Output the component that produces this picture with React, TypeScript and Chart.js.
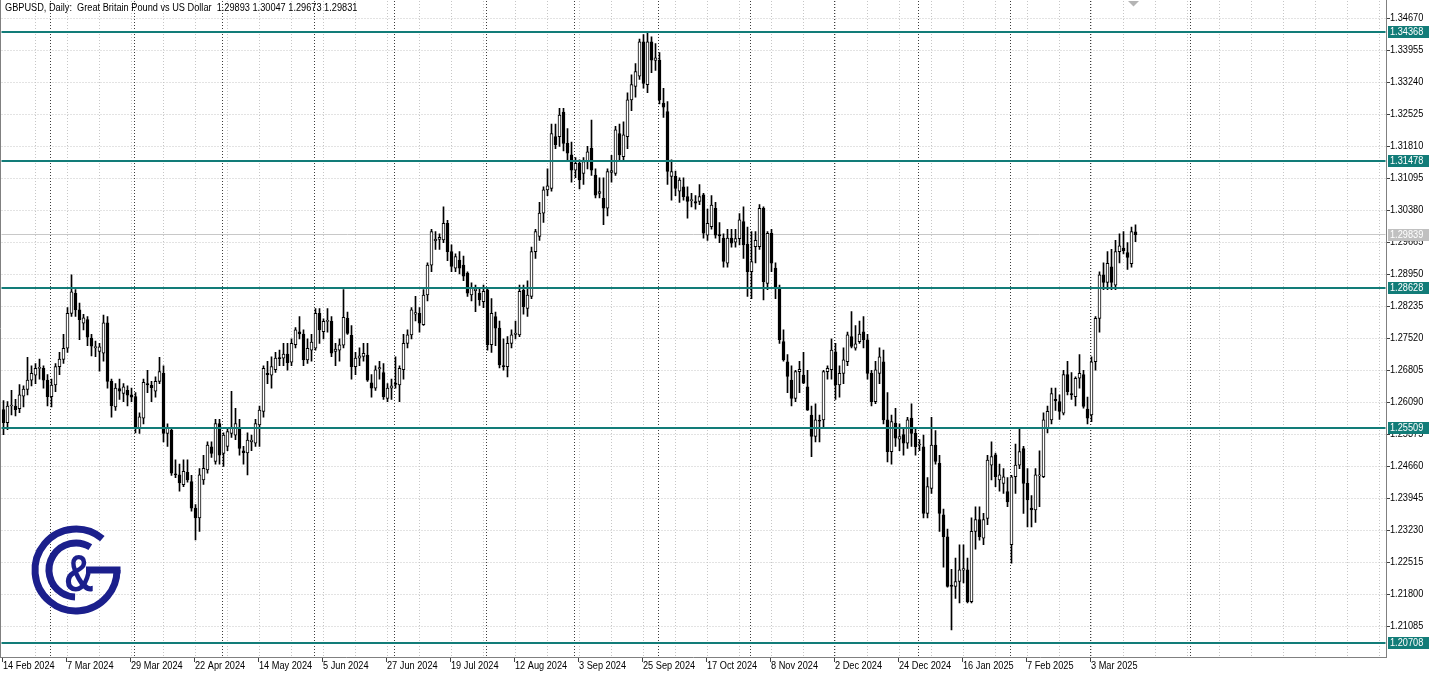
import React, { useEffect, useRef } from "react";
import { Chart, registerables } from "chart.js";

Chart.register(...registerables);

// ---------- data ----------
const symbolTitle = "GBPUSD, Daily:  Great Britain Pound vs US Dollar  1.29893 1.30047 1.29673 1.29831";

const xTickLabels = [
  "14 Feb 2024", "7 Mar 2024", "29 Mar 2024", "22 Apr 2024", "14 May 2024", "5 Jun 2024",
  "27 Jun 2024", "19 Jul 2024", "12 Aug 2024", "3 Sep 2024", "25 Sep 2024", "17 Oct 2024",
  "8 Nov 2024", "2 Dec 2024", "24 Dec 2024", "16 Jan 2025", "7 Feb 2025", "3 Mar 2025",
];
const xLabelEvery = 16;
const xGridEvery = 8;

const yTickValues = [
  1.3467, 1.33955, 1.3324, 1.32525, 1.3181, 1.31095, 1.3038, 1.29665, 1.2895, 1.28235,
  1.2752, 1.26805, 1.2609, 1.25375, 1.2466, 1.23945, 1.2323, 1.22515, 1.218, 1.21085,
];

const levelValues = [1.34368, 1.31478, 1.28628, 1.25509, 1.20708];
const lastPrice = 1.29839;

// bar indices of month starts (period separators)
const monthStartIdx = [12, 33, 55, 78, 98, 121, 143, 164, 187, 208, 229, 252, 272, 297];

const opens = [
  1.2592, 1.2563, 1.2600, 1.2600, 1.2594, 1.2622, 1.2637, 1.2658, 1.2669, 1.2684,
  1.2684, 1.2658, 1.2621, 1.2647, 1.2688, 1.2704, 1.2729, 1.2807, 1.2852, 1.2815,
  1.2785, 1.2793, 1.2752, 1.2730, 1.2722, 1.2718, 1.2786, 1.2655, 1.2598, 1.2639,
  1.2628, 1.2635, 1.2625, 1.2621, 1.2550, 1.2573, 1.2650, 1.2646, 1.2633, 1.2655,
  1.2673, 1.2539, 1.2546, 1.2448, 1.2446, 1.2424, 1.2452, 1.2431, 1.2372, 1.2350,
  1.2435, 1.2457, 1.2509, 1.2476, 1.2561, 1.2494, 1.2510, 1.2539, 1.2535, 1.2550,
  1.2500, 1.2495, 1.2520, 1.2517, 1.2558, 1.2588, 1.2673, 1.2669, 1.2681, 1.2708,
  1.2707, 1.2716, 1.2698, 1.2737, 1.2766, 1.2761, 1.2703, 1.2725, 1.2729, 1.2807,
  1.2766, 1.2789, 1.2789, 1.2722, 1.2725, 1.2736, 1.2796, 1.2758, 1.2688, 1.2707,
  1.2711, 1.2714, 1.2652, 1.2640, 1.2683, 1.2675, 1.2617, 1.2640, 1.2651, 1.2647,
  1.2681, 1.2740, 1.2759, 1.2805, 1.2807, 1.2782, 1.2848, 1.2915, 1.2969, 1.2972,
  1.2971, 1.3008, 1.2945, 1.2908, 1.2926, 1.2915, 1.2897, 1.2848, 1.2858, 1.2852,
  1.2833, 1.2859, 1.2737, 1.2800, 1.2774, 1.2690, 1.2688, 1.2740, 1.2760, 1.2759,
  1.2859, 1.2818, 1.2845, 1.2945, 1.2979, 1.3031, 1.3083, 1.3086, 1.3202, 1.3202,
  1.3257, 1.3187, 1.3161, 1.3127, 1.3142, 1.3120, 1.3146, 1.3176, 1.3116, 1.3075,
  1.3064, 1.3042, 1.3122, 1.3120, 1.3209, 1.3157, 1.3202, 1.3284, 1.3314, 1.3337,
  1.3414, 1.3318, 1.3414, 1.3372, 1.3373, 1.3277, 1.3258, 1.3113, 1.3113, 1.3080,
  1.3090, 1.3068, 1.3059, 1.3057, 1.3057, 1.3072, 1.2982, 1.3001, 1.3042, 1.2983,
  1.2975, 1.2919, 1.2975, 1.2966, 1.2974, 1.3012, 1.2962, 1.2900, 1.2956, 1.2956,
  1.3042, 1.2874, 1.2986, 1.2908, 1.2863, 1.2744, 1.2699, 1.2658, 1.2617, 1.2677,
  1.2669, 1.2643, 1.2580, 1.2532, 1.2568, 1.2569, 1.2677, 1.2681, 1.2721, 1.2647,
  1.2673, 1.2699, 1.2755, 1.2729, 1.2744, 1.2766, 1.2748, 1.2673, 1.2610, 1.2673,
  1.2699, 1.2569, 1.2498, 1.2562, 1.2526, 1.2536, 1.2517, 1.2573, 1.2539, 1.2513,
  1.2509, 1.2360, 1.2416, 1.2513, 1.2472, 1.2357, 1.2308, 1.2200, 1.2197, 1.2208,
  1.2233, 1.2234, 1.2163, 1.2320, 1.2346, 1.2305, 1.2349, 1.2468, 1.2491, 1.2435,
  1.2427, 1.2409, 1.2290, 1.2442, 1.2468, 1.2505, 1.2427, 1.2372, 1.2368, 1.2444,
  1.2442, 1.2550, 1.2569, 1.2615, 1.2610, 1.2584, 1.2670, 1.2628, 1.2621, 1.2662,
  1.2670, 1.2593, 1.2580, 1.2699, 1.2796, 1.2893, 1.2876, 1.2911, 1.2870, 1.2945,
  1.2953, 1.2943, 1.2918, 1.29893,
];
const highs = [
  1.2612, 1.2610, 1.2635, 1.2615, 1.2648, 1.2645, 1.2709, 1.2690, 1.2695, 1.2705,
  1.2690, 1.2670, 1.2660, 1.2695, 1.2720, 1.2760, 1.2820, 1.2893, 1.2860, 1.2830,
  1.2805, 1.2800, 1.2760, 1.2745, 1.2740, 1.2803, 1.2800, 1.2660, 1.2650, 1.2660,
  1.2650, 1.2645, 1.2640, 1.2630, 1.2585, 1.2660, 1.2680, 1.2655, 1.2665, 1.2709,
  1.2690, 1.2560, 1.2550, 1.2480, 1.2470, 1.2480, 1.2480, 1.2445, 1.2380, 1.2460,
  1.2490, 1.2520, 1.2520, 1.2570, 1.2570, 1.2540, 1.2550, 1.2633, 1.2595, 1.2570,
  1.2510, 1.2540, 1.2535, 1.2570, 1.2600, 1.2690, 1.2700, 1.2710, 1.2720, 1.2725,
  1.2740, 1.2740, 1.2750, 1.2775, 1.2800, 1.2770, 1.2750, 1.2760, 1.2818, 1.2818,
  1.2795, 1.2818, 1.2800, 1.2740, 1.2750, 1.2860, 1.2810, 1.2780, 1.2720, 1.2730,
  1.2740, 1.2740, 1.2670, 1.2690, 1.2700, 1.2695, 1.2650, 1.2660, 1.2710, 1.2690,
  1.2760, 1.2770, 1.2820, 1.2845, 1.2820, 1.2860, 1.2920, 1.2995, 1.2990, 1.2985,
  1.3045, 1.3015, 1.2960, 1.2940, 1.2945, 1.2935, 1.2900, 1.2875, 1.2870, 1.2865,
  1.2870, 1.2865, 1.2840, 1.2810, 1.2790, 1.2750, 1.2755, 1.2770, 1.2790, 1.2870,
  1.2870, 1.2880, 1.2955, 1.2995, 1.3055, 1.3090, 1.3130, 1.3230, 1.3230, 1.3265,
  1.3265, 1.3220, 1.3190, 1.3155, 1.3150, 1.3155, 1.3180, 1.3239, 1.3130, 1.3110,
  1.3110, 1.3130, 1.3160, 1.3225, 1.3230, 1.3235, 1.3300, 1.3340, 1.3365, 1.3420,
  1.3430, 1.3434, 1.3425, 1.3410, 1.3390, 1.3310, 1.3280, 1.3150, 1.3125, 1.3110,
  1.3110, 1.3090, 1.3075, 1.3070, 1.3095, 1.3075, 1.3040, 1.3070, 1.3055, 1.3010,
  1.2985, 1.2995, 1.2995, 1.2995, 1.3030, 1.3045, 1.3000, 1.2990, 1.2990, 1.3050,
  1.3045, 1.2990, 1.2995, 1.2920, 1.2870, 1.2770, 1.2715, 1.2690, 1.2680, 1.2700,
  1.2720, 1.2680, 1.2600, 1.2605, 1.2580, 1.2680, 1.2690, 1.2750, 1.2740, 1.2690,
  1.2730, 1.2765, 1.2811, 1.2780, 1.2790, 1.2800, 1.2760, 1.2680, 1.2700, 1.2730,
  1.2725, 1.2630, 1.2580, 1.2595, 1.2560, 1.2550, 1.2575, 1.2605, 1.2550, 1.2525,
  1.2535, 1.2440, 1.2575, 1.2545, 1.2490, 1.2370, 1.2325, 1.2235, 1.2260, 1.2290,
  1.2290, 1.2260, 1.2350, 1.2375, 1.2375, 1.2360, 1.2490, 1.2520, 1.2495, 1.2470,
  1.2460, 1.2440, 1.2445, 1.2515, 1.2550, 1.2510, 1.2460, 1.2400, 1.2460, 1.2500,
  1.2585, 1.2600, 1.2640, 1.2640, 1.2625, 1.2680, 1.2700, 1.2675, 1.2665, 1.2715,
  1.2680, 1.2620, 1.2710, 1.2800, 1.2900, 1.2920, 1.2945, 1.2950, 1.2970, 1.2985,
  1.2990, 1.2965, 1.3000, 1.30047,
];
const lows = [
  1.2536, 1.2547, 1.2580, 1.2578, 1.2585, 1.2598, 1.2625, 1.2645, 1.2650, 1.2660,
  1.2640, 1.2600, 1.2598, 1.2632, 1.2670, 1.2695, 1.2720, 1.2800, 1.2800, 1.2748,
  1.2770, 1.2735, 1.2712, 1.2710, 1.2678, 1.2700, 1.2640, 1.2575, 1.2590, 1.2615,
  1.2610, 1.2600, 1.2610, 1.2540, 1.2539, 1.2560, 1.2630, 1.2610, 1.2620, 1.2650,
  1.2520, 1.2510, 1.2445, 1.2440, 1.2410, 1.2420, 1.2430, 1.2365, 1.2301, 1.2320,
  1.2425, 1.2450, 1.2485, 1.2470, 1.2470, 1.2465, 1.2500, 1.2530, 1.2525, 1.2490,
  1.2470, 1.2446, 1.2500, 1.2510, 1.2510, 1.2575, 1.2650, 1.2640, 1.2675, 1.2690,
  1.2690, 1.2680, 1.2690, 1.2730, 1.2750, 1.2690, 1.2695, 1.2700, 1.2725, 1.2740,
  1.2750, 1.2765, 1.2710, 1.2690, 1.2700, 1.2730, 1.2760, 1.2660, 1.2670, 1.2690,
  1.2700, 1.2655, 1.2620, 1.2635, 1.2660, 1.2615, 1.2610, 1.2615, 1.2640, 1.2610,
  1.2660, 1.2730, 1.2750, 1.2790, 1.2765, 1.2780, 1.2835, 1.2900, 1.2950, 1.2950,
  1.2965, 1.2925, 1.2900, 1.2900, 1.2895, 1.2880, 1.2845, 1.2835, 1.2811, 1.2825,
  1.2820, 1.2725, 1.2720, 1.2735, 1.2685, 1.2680, 1.2665, 1.2730, 1.2750, 1.2755,
  1.2805, 1.2800, 1.2840, 1.2930, 1.2970, 1.3010, 1.3070, 1.3080, 1.3175, 1.3180,
  1.3170, 1.3150, 1.3100, 1.3110, 1.3085, 1.3095, 1.3130, 1.3115, 1.3065, 1.3065,
  1.3005, 1.3025, 1.3100, 1.3115, 1.3150, 1.3150, 1.3175, 1.3260, 1.3290, 1.3330,
  1.3310, 1.3300, 1.3345, 1.3350, 1.3275, 1.3245, 1.3095, 1.3060, 1.3070, 1.3055,
  1.3060, 1.3020, 1.3045, 1.3040, 1.3050, 1.2975, 1.2970, 1.2995, 1.2975, 1.2965,
  1.2910, 1.2910, 1.2955, 1.2955, 1.2960, 1.2930, 1.2845, 1.2840, 1.2920, 1.2950,
  1.2837, 1.2860, 1.2900, 1.2840, 1.2740, 1.2700, 1.2630, 1.2600, 1.2610, 1.2630,
  1.2650, 1.2590, 1.2487, 1.2520, 1.2520, 1.2550, 1.2660, 1.2660, 1.2615, 1.2620,
  1.2650, 1.2690, 1.2730, 1.2725, 1.2740, 1.2730, 1.2660, 1.2600, 1.2605, 1.2650,
  1.2560, 1.2475, 1.2470, 1.2510, 1.2500, 1.2490, 1.2505, 1.2510, 1.2490, 1.2500,
  1.2350, 1.2350, 1.2405, 1.2470, 1.2320, 1.2240, 1.2195, 1.2100, 1.2170, 1.2160,
  1.2205, 1.2160, 1.2160, 1.2280, 1.2300, 1.2290, 1.2335, 1.2435, 1.2420, 1.2410,
  1.2405, 1.2375, 1.2249, 1.2405, 1.2460, 1.2360, 1.2330, 1.2330, 1.2340, 1.2375,
  1.2440, 1.2540, 1.2560, 1.2590, 1.2570, 1.2580, 1.2625, 1.2615, 1.2600, 1.2640,
  1.2595, 1.2560, 1.2565, 1.2680, 1.2765, 1.2860, 1.2860, 1.2860, 1.2860, 1.2920,
  1.2940, 1.2905, 1.2910, 1.29673,
];
const closes = [
  1.2563, 1.2600, 1.2602, 1.2592, 1.2625, 1.2638, 1.2658, 1.2673, 1.2684, 1.2686,
  1.2658, 1.2621, 1.2647, 1.2688, 1.2705, 1.2729, 1.2807, 1.2855, 1.2815, 1.2793,
  1.2797, 1.2754, 1.2734, 1.2733, 1.2732, 1.2786, 1.2655, 1.2601, 1.2640, 1.2633,
  1.2643, 1.2624, 1.2620, 1.2554, 1.2576, 1.2653, 1.2647, 1.2641, 1.2655, 1.2677,
  1.2539, 1.2550, 1.2450, 1.2446, 1.2428, 1.2454, 1.2435, 1.2372, 1.2350, 1.2446,
  1.2461, 1.2513, 1.2494, 1.2561, 1.2490, 1.2535, 1.2543, 1.2550, 1.2561, 1.2505,
  1.2496, 1.2524, 1.2524, 1.2561, 1.2591, 1.2684, 1.2670, 1.2688, 1.2707, 1.2706,
  1.2716, 1.2697, 1.2740, 1.2770, 1.2761, 1.2703, 1.2729, 1.2743, 1.2807, 1.2770,
  1.2789, 1.2790, 1.2718, 1.2727, 1.2737, 1.2798, 1.2762, 1.2688, 1.2707, 1.2712,
  1.2718, 1.2658, 1.2640, 1.2681, 1.2686, 1.2621, 1.2640, 1.2645, 1.2648, 1.2684,
  1.2740, 1.2759, 1.2815, 1.2809, 1.2785, 1.2848, 1.2915, 1.2990, 1.2973, 1.2977,
  1.3008, 1.2945, 1.2912, 1.2934, 1.2908, 1.2890, 1.2852, 1.2863, 1.2861, 1.2837,
  1.2856, 1.2737, 1.2807, 1.2774, 1.2692, 1.2688, 1.2740, 1.2759, 1.2763, 1.2856,
  1.2822, 1.2848, 1.2945, 1.2990, 1.3031, 1.3083, 1.3092, 1.3209, 1.3184, 1.3250,
  1.3187, 1.3165, 1.3127, 1.3142, 1.3105, 1.3146, 1.3168, 1.3127, 1.3071, 1.3079,
  1.3042, 1.3124, 1.3126, 1.3217, 1.3161, 1.3206, 1.3284, 1.3318, 1.3347, 1.3414,
  1.3321, 1.3414, 1.3373, 1.3378, 1.3284, 1.3268, 1.3124, 1.3124, 1.3086, 1.3105,
  1.3068, 1.3057, 1.3061, 1.3053, 1.3068, 1.2986, 1.3008, 1.3049, 1.2982, 1.2980,
  1.2923, 1.2975, 1.2964, 1.2974, 1.3016, 1.2960, 1.2900, 1.2923, 1.2970, 1.3042,
  1.2878, 1.2986, 1.2919, 1.2863, 1.2748, 1.2703, 1.2666, 1.2617, 1.2677, 1.2682,
  1.2651, 1.2591, 1.2532, 1.2569, 1.2566, 1.2677, 1.2684, 1.2725, 1.2647, 1.2673,
  1.2703, 1.2759, 1.2733, 1.2739, 1.2761, 1.2748, 1.2673, 1.2610, 1.2681, 1.2710,
  1.2569, 1.2498, 1.2565, 1.2528, 1.2532, 1.2517, 1.2569, 1.2539, 1.2509, 1.2515,
  1.2360, 1.2420, 1.2513, 1.2476, 1.2360, 1.2308, 1.2197, 1.2197, 1.2208, 1.2234,
  1.2237, 1.2163, 1.2320, 1.2346, 1.2308, 1.2346, 1.2479, 1.2487, 1.2442, 1.2446,
  1.2442, 1.2386, 1.2442, 1.2468, 1.2498, 1.2427, 1.2390, 1.2368, 1.2446, 1.2446,
  1.2569, 1.2588, 1.2628, 1.2612, 1.2588, 1.2670, 1.2632, 1.2625, 1.2662, 1.2673,
  1.2599, 1.2573, 1.2699, 1.2796, 1.2893, 1.2876, 1.2919, 1.2876, 1.2945, 1.2958,
  1.2947, 1.2932, 1.2990, 1.29831,
];

// ---------- layout / style constants ----------
const W = 1432;
const H = 674;
const SLOT_COUNT = 346;
const Y_MAX = 1.350498;
const Y_MIN = 1.203922;
const SX = 0.92;
const FONT = '10px "Liberation Sans", Arial, sans-serif';
const TEAL = "#127c78";
const LOGO_BLUE = "#1b1f8c";

function drawText(ctx: CanvasRenderingContext2D, s: string, x: number, y: number, color: string) {
  ctx.save();
  ctx.translate(x, y);
  ctx.scale(SX, 1);
  ctx.font = FONT;
  ctx.fillStyle = color;
  ctx.textBaseline = "middle";
  ctx.textAlign = "left";
  ctx.fillText(s, 0, 0);
  ctx.restore();
}

const mtPlugin = {
  id: "mtDecor",
  beforeDatasetsDraw(chart: any) {
    const { ctx, chartArea: a, scales } = chart;
    const xs = scales.x;
    const ys = scales.y;
    ctx.save();
    ctx.lineWidth = 1;
    // horizontal dotted grid
    ctx.strokeStyle = "#c6c6c6";
    ctx.setLineDash([1, 2]);
    yTickValues.forEach((v) => {
      const y = Math.round(ys.getPixelForValue(v)) + 0.5;
      ctx.beginPath();
      ctx.moveTo(a.left, y);
      ctx.lineTo(a.right, y);
      ctx.stroke();
    });
    // vertical dotted grid
    for (let i = xGridEvery; i < SLOT_COUNT; i += xGridEvery) {
      const x = Math.floor(xs.getPixelForValue(i)) + 0.5;
      ctx.beginPath();
      ctx.moveTo(x, a.top);
      ctx.lineTo(x, a.bottom);
      ctx.stroke();
    }
    // period separators
    ctx.strokeStyle = "#3c3c3c";
    monthStartIdx.forEach((i) => {
      const x = Math.floor(xs.getPixelForValue(i)) - 0.5;
      ctx.beginPath();
      ctx.moveTo(x, a.top);
      ctx.lineTo(x, a.bottom);
      ctx.stroke();
    });
    ctx.setLineDash([]);
    // last price line
    const yl = Math.round(ys.getPixelForValue(lastPrice)) + 0.5;
    ctx.strokeStyle = "#c8c8c8";
    ctx.beginPath();
    ctx.moveTo(a.left, yl);
    ctx.lineTo(a.right, yl);
    ctx.stroke();
    ctx.restore();
  },
  afterDatasetsDraw(chart: any) {
    const { ctx, chartArea: a, scales } = chart;
    const xs = scales.x;
    const ys = scales.y;
    ctx.save();
    // level lines
    ctx.strokeStyle = TEAL;
    ctx.lineWidth = 2;
    levelValues.forEach((v) => {
      const y = Math.round(ys.getPixelForValue(v));
      ctx.beginPath();
      ctx.moveTo(a.left, y);
      ctx.lineTo(a.right, y);
      ctx.stroke();
    });
    ctx.lineWidth = 1;
    // frame
    ctx.strokeStyle = "#808080";
    ctx.beginPath();
    ctx.moveTo(0.5, 0);
    ctx.lineTo(0.5, a.bottom);
    ctx.moveTo(Math.round(a.right) + 0.5, 0);
    ctx.lineTo(Math.round(a.right) + 0.5, a.bottom + 1);
    ctx.moveTo(0, Math.round(a.bottom) + 0.5);
    ctx.lineTo(Math.round(a.right) + 1, Math.round(a.bottom) + 0.5);
    ctx.stroke();
    // y labels
    const axX = Math.round(a.right) + 1;
    ctx.strokeStyle = "#404040";
    yTickValues.forEach((v) => {
      const y = ys.getPixelForValue(v);
      ctx.beginPath();
      ctx.moveTo(axX, Math.round(y) + 0.5);
      ctx.lineTo(axX + 3, Math.round(y) + 0.5);
      ctx.stroke();
      drawText(ctx, v.toFixed(5), axX + 3, y + 0.5, "#000000");
    });
    // last price label
    const yl = ys.getPixelForValue(lastPrice);
    ctx.fillStyle = "#c0c0c0";
    ctx.fillRect(axX + 1, Math.round(yl) - 5, 41, 12);
    drawText(ctx, lastPrice.toFixed(5), axX + 3, Math.round(yl) + 1, "#ffffff");
    // level labels
    levelValues.forEach((v) => {
      const y = Math.round(ys.getPixelForValue(v));
      ctx.fillStyle = TEAL;
      ctx.fillRect(axX + 1, y - 6, 41, 12);
      drawText(ctx, v.toFixed(5), axX + 3, y + 0.5, "#ffffff");
    });
    // x labels
    xTickLabels.forEach((s, k) => {
      const x = Math.floor(xs.getPixelForValue(k * xLabelEvery));
      const b = Math.round(a.bottom);
      ctx.strokeStyle = "#404040";
      ctx.beginPath();
      ctx.moveTo(x - 0.5, b + 1);
      ctx.lineTo(x - 0.5, b + 5);
      ctx.stroke();
      drawText(ctx, s, x, b + 9, "#000000");
    });
    // title
    drawText(ctx, symbolTitle, 5, 8.5, "#000000");
    // shift marker
    ctx.fillStyle = "#b4b4b4";
    ctx.beginPath();
    ctx.moveTo(1128, 1);
    ctx.lineTo(1139, 1);
    ctx.lineTo(1133.5, 6.5);
    ctx.closePath();
    ctx.fill();
    // logo
    const cx = 76;
    const cy = 570;
    ctx.strokeStyle = LOGO_BLUE;
    ctx.fillStyle = LOGO_BLUE;
    ctx.lineWidth = 7;
    ctx.lineCap = "butt";
    ctx.beginPath();
    ctx.arc(cx, cy, 41, (-50 * Math.PI) / 180, (-360 * Math.PI) / 180, true);
    ctx.stroke();
    ctx.fillRect(86, cy - 3.5, cx + 44.5 - 86, 7);
    ctx.beginPath();
    ctx.arc(cx, cy, 27, (-58 * Math.PI) / 180, (-268 * Math.PI) / 180, true);
    ctx.stroke();
    ctx.save();
    ctx.translate(79, 591);
    ctx.scale(0.8, 1);
    ctx.font = 'bold 52px "Liberation Sans", Arial, sans-serif';
    ctx.textAlign = "center";
    ctx.textBaseline = "alphabetic";
    ctx.fillText("&", 0, 0);
    ctx.restore();
    ctx.restore();
  },
};

export default function App() {
  const ref = useRef<HTMLCanvasElement | null>(null);
  useEffect(() => {
    document.body.style.margin = "0";
    const canvas = ref.current;
    if (!canvas) return;
    const slots = Array.from({ length: SLOT_COUNT }, (_, i) => String(i));
    const bodies = opens.map((o, i) => [o, closes[i]]);
    const wicks = lows.map((l, i) => [l, highs[i]]);
    const bodyFill = opens.map((o, i) => (closes[i] >= o ? "#ffffff" : "#000000"));
    const chart = new Chart(canvas, {
      type: "bar",
      data: {
        labels: slots,
        datasets: [
          {
            label: "body",
            data: bodies as any,
            backgroundColor: bodyFill,
            borderColor: "#000000",
            borderWidth: 1,
            borderSkipped: false,
            barThickness: 3,
            minBarLength: 1,
            grouped: false,
            order: 0,
          } as any,
          {
            label: "wick",
            data: wicks as any,
            backgroundColor: "#000000",
            borderWidth: 0,
            barThickness: 1,
            grouped: false,
            order: 1,
          } as any,
        ],
      },
      options: {
        responsive: false,
        animation: false,
        events: [],
        layout: { padding: { left: 1.5, right: 46.5, top: 1, bottom: 17 } },
        scales: {
          x: { display: false, offset: true },
          y: { display: false, min: Y_MIN, max: Y_MAX },
        },
        plugins: {
          legend: { display: false },
          tooltip: { enabled: false },
          title: { display: false },
        },
      },
      plugins: [mtPlugin],
    });
    return () => chart.destroy();
  }, []);
  return (
    <div style={{ width: W, height: H, background: "#ffffff" }}>
      <canvas ref={ref} width={W} height={H} style={{ display: "block", width: W, height: H }} />
    </div>
  );
}
